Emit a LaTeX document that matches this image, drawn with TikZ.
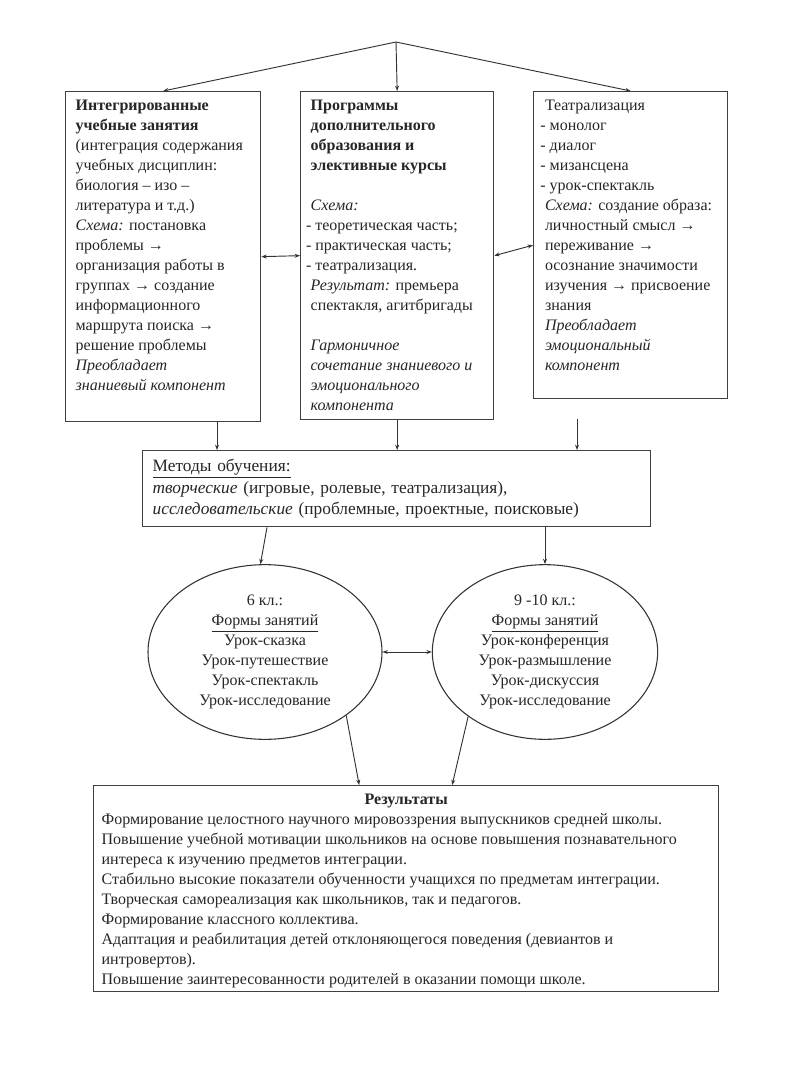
\documentclass[tikz,border=0pt]{standalone}
\usepackage{fontspec}
\setmainfont{Liberation Serif}
\usetikzlibrary{shapes.geometric, arrows.meta, positioning, calc}

\begin{document}
\begin{tikzpicture}[
    x=0.75pt, y=-0.75pt,
    font=\fontsize{12}{15}\selectfont,
    mainbox/.style={rectangle, draw=black!75, line width=1pt, anchor=north west, inner xsep=6pt, inner ysep=6pt, text=black!85},
    formell/.style={ellipse, draw=black!80, line width=0.8pt, inner sep=0pt, minimum height=131pt, align=center, text=black!85},
    arrow/.style={-{Stealth[length=4pt, width=3pt]}, line width=0.7pt, black!80},
    biarrow/.style={{Stealth[length=4pt, width=3pt]}-{Stealth[length=4pt, width=3pt]}, line width=0.7pt, black!80}
]
    \path[fill=white, use as bounding box] (0,0) rectangle (800,1067);

    % Top boxes
    \node[mainbox, inner xsep=7.5pt] (integ) at (65,91) {\parbox[t][235.5pt][t]{131.25pt}{\raggedright
        \textbf{Интегрированные}\\
        \textbf{учебные занятия}\\
        (интеграция содержания\\
        учебных дисциплин:\\
        биология – изо –\\
        литература и т.д.)\\
        \textit{Схема:} постановка\\
        проблемы →\\
        организация работы в\\
        группах → создание\\
        информационного\\
        маршрута поиска →\\
        решение проблемы\\
        \textit{Преобладает}\\
        \textit{знаниевый компонент}}};

    \node[mainbox, inner xsep=7.5pt] (prog) at (300,91) {\parbox[t][234pt][t]{129.75pt}{\raggedright
        \textbf{Программы}\\
        \textbf{дополнительного}\\
        \textbf{образования и}\\
        \textbf{элективные курсы}\\[15pt]
        \textit{Схема:}\\
        \hspace*{-3.5pt}- теоретическая часть;\\
        \hspace*{-3.5pt}- практическая часть;\\
        \hspace*{-3.5pt}- театрализация.\\
        \textit{Результат:} премьера\\
        спектакля, агитбригады\\[15pt]
        \textit{Гармоничное}\\
        \textit{сочетание знаниевого и}\\
        \textit{эмоционального}\\
        \textit{компонента}}};

    \node[mainbox, inner xsep=8.5pt] (theat) at (533,91) {\parbox[t][218.25pt][t]{128.5pt}{\raggedright
        Театрализация\\
        \hspace*{-3.5pt}- монолог\\
        \hspace*{-3.5pt}- диалог\\
        \hspace*{-3.5pt}- мизансцена\\
        \hspace*{-3.5pt}- урок-спектакль\\
        \textit{Схема:} создание образа:\\
        личностный смысл →\\
        переживание →\\
        осознание значимости\\
        изучения → присвоение\\
        знания\\
        \textit{Преобладает}\\
        \textit{эмоциональный}\\
        \textit{компонент}}};

    \coordinate (apex) at (396,42);
    \draw[arrow] (apex) -- (integ.north);
    \draw[arrow] (apex) -- (prog.north);
    \draw[arrow] (apex) -- (theat.north);
    \draw[biarrow] (integ.east) -- (prog.west);
    \draw[biarrow] (prog.east) -- (theat.west);

    % Methods
    \node[mainbox, inner xsep=7.5pt, text width=366pt, minimum height=57pt, align=left, font=\fontsize{13}{16}\selectfont] (meth) at (142,450) {%
        \underline{Методы обучения:}\\
        \textit{творческие} (игровые, ролевые, театрализация),\\
        \textit{исследовательские} (проблемные, проектные, поисковые)};

    \coordinate (d1) at ($(integ.south west)+(152,0)$);
    \coordinate (d3) at ($(theat.south west)+(44,20)$);
    \draw[arrow] (d1) -- (d1 |- meth.north);
    \draw[arrow] (prog.south) -- (prog.south |- meth.north);
    \draw[arrow] (d3) -- (d3 |- meth.north);

    % Forms
    \node[formell, minimum width=175.5pt] (f6) at (265,652) {6 кл.:\\ \underline{Формы занятий}\\ Урок-сказка\\ Урок-путешествие\\ Урок-спектакль\\ Урок-исследование};
    \node[formell, minimum width=169pt] (f9) at (545,652) {9 -10 кл.:\\ \underline{Формы занятий}\\ Урок-конференция\\ Урок-размышление\\ Урок-дискуссия\\ Урок-исследование};

    \draw[arrow] ($(meth.south west)+(125,0)$) -- (f6.93);
    \draw[arrow] (meth.south -| f9.north) -- (f9.north);
    \draw[biarrow] (f6.east) -- (f9.west);

    % Results
    \node[mainbox] (res) at (93,785) {\parbox[t][142.5pt][t]{456.75pt}{\raggedright
        {\centering\textbf{Результаты}\par}
        Формирование целостного научного мировоззрения выпускников средней школы.\\
        Повышение учебной мотивации школьников на основе повышения познавательного\\
        интереса к изучению предметов интеграции.\\
        Стабильно высокие показатели обученности учащихся по предметам интеграции.\\
        Творческая самореализация как школьников, так и педагогов.\\
        Формирование классного коллектива.\\
        Адаптация и реабилитация детей отклоняющегося поведения (девиантов и\\
        интровертов).\\
        Повышение заинтересованности родителей в оказании помощи школе.}};

    \draw[arrow] (f6.-38) -- ($(res.north)+(-47,0)$);
    \draw[arrow] (f9.-140) -- ($(res.north)+(46,0)$);
\end{tikzpicture}
\end{document}
